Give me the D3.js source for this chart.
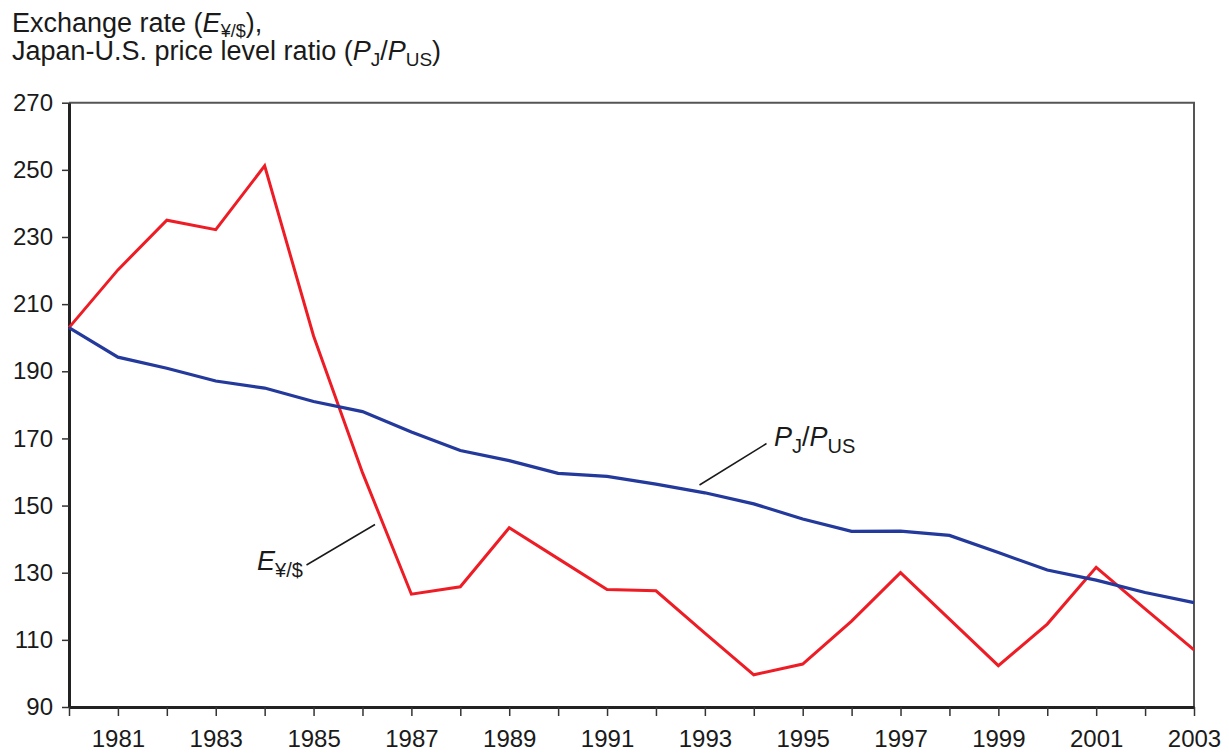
<!DOCTYPE html>
<html>
<head>
<meta charset="utf-8">
<script src="https://cdn.jsdelivr.net/npm/d3@7"></script>
<style>
  body { margin: 0; background: #fff; }
  svg text { font-family: "Liberation Sans", Arial, Helvetica, sans-serif; fill: #1a1a1a; }
</style>
</head>
<body>
<script>
'use strict';

// data
const years = d3.range(1980, 2004);
const exchangeRate = [203, 220.2, 235, 232.2, 251.2, 200.5, 159.8, 123.6, 125.8, 143.4, 134.2, 125, 124.6,
  112, 99.6, 102.8, 115.6, 130, 116.2, 102.3, 114.7, 131.6, 119.2, 107];
const priceRatio = [203, 194.2, 190.9, 187.1, 185, 181, 178, 171.9, 166.4, 163.4, 159.6, 158.7, 156.4,
  153.8, 150.5, 146, 142.3, 142.4, 141.1, 136, 130.8, 127.8, 124.1, 121.1];
const yTicks = [90, 110, 130, 150, 170, 190, 210, 230, 250, 270];

let svg = "";

window.onload = function() {
  svg = d3.select('body')
    .append('svg')
    .attr('width', 1229)
    .attr('height', 753);

  drawChart();
};

function drawChart() {
  let left = 69, right = 1194, top = 102.7, bottom = 707;

  let xScale = d3.scaleLinear()
    .domain([1980, 2003])
    .range([left, right]);

  let yScale = d3.scaleLinear()
    .domain([90, 270])
    .range([bottom, top]);

  // top and right frame
  svg.append('path')
    .attr('d', 'M' + left + ',' + top + 'H' + right + 'V' + bottom)
    .attr('fill', 'none')
    .attr('stroke', '#555')
    .attr('stroke-width', 2);

  // y axis
  let yAxis = d3.axisLeft(yScale)
    .tickValues(yTicks)
    .tickSize(7)
    .tickSizeOuter(0)
    .tickPadding(9);

  let gy = svg.append('g')
    .attr('transform', 'translate(' + left + ',0)')
    .call(yAxis);
  gy.select('.domain').attr('stroke', '#222').attr('stroke-width', 3);
  gy.selectAll('.tick line').attr('stroke', '#333').attr('stroke-width', 1.5);
  gy.selectAll('.tick text')
    .style('font-size', '24px')
    .attr('fill', '#1a1a1a');

  // x axis, tick every year, label odd years
  let xAxis = d3.axisBottom(xScale)
    .tickValues(years)
    .tickSize(9)
    .tickSizeOuter(0)
    .tickPadding(13.5)
    .tickFormat(d => d % 2 === 1 ? String(d) : '');

  let gx = svg.append('g')
    .attr('transform', 'translate(0,' + bottom + ')')
    .call(xAxis);
  gx.select('.domain').attr('stroke', '#222').attr('stroke-width', 3);
  gx.selectAll('.tick line').attr('stroke', '#333').attr('stroke-width', 1.5);
  gx.selectAll('.tick text')
    .style('font-size', '24px')
    .attr('fill', '#1a1a1a');

  // series lines
  let line = d3.line()
    .x((d, i) => xScale(years[i]))
    .y(d => yScale(d));

  svg.append('path')
    .datum(exchangeRate)
    .attr('d', line)
    .attr('fill', 'none')
    .attr('stroke', '#ee1c25')
    .attr('stroke-width', 3)
    .attr('stroke-linejoin', 'miter');

  svg.append('path')
    .datum(priceRatio)
    .attr('d', line)
    .attr('fill', 'none')
    .attr('stroke', '#23399b')
    .attr('stroke-width', 3.2)
    .attr('stroke-linejoin', 'miter');

  makeLabels();
}

function makeLabels() {
  // axis title, two lines
  let t1 = svg.append('text')
    .attr('x', 12)
    .attr('y', 31.5)
    .style('font-size', '27px');
  t1.append('tspan').text('Exchange rate (');
  t1.append('tspan').style('font-style', 'italic').text('E');
  t1.append('tspan').attr('dy', 5).style('font-size', '18px').text('¥/$');
  t1.append('tspan').attr('dy', -5).text('),');

  let t2 = svg.append('text')
    .attr('x', 12)
    .attr('y', 60)
    .style('font-size', '27px');
  t2.append('tspan').text('Japan-U.S. price level ratio (');
  t2.append('tspan').style('font-style', 'italic').text('P');
  t2.append('tspan').attr('dy', 6).style('font-size', '19px').text('J');
  t2.append('tspan').attr('dy', -6).text('/');
  t2.append('tspan').style('font-style', 'italic').text('P');
  t2.append('tspan').attr('dy', 6).style('font-size', '19px').text('US');
  t2.append('tspan').attr('dy', -6).text(')');

  // E label with leader line
  svg.append('line')
    .attr('x1', 306.5).attr('y1', 565)
    .attr('x2', 375).attr('y2', 524.5)
    .attr('stroke', '#1a1a1a')
    .attr('stroke-width', 1.5);

  let e = svg.append('text')
    .attr('x', 257)
    .attr('y', 570)
    .style('font-size', '27px');
  e.append('tspan').style('font-style', 'italic').text('E');
  e.append('tspan').attr('dy', 7).style('font-size', '20px').text('¥/$');

  // P label with leader line
  svg.append('line')
    .attr('x1', 766.5).attr('y1', 443.5)
    .attr('x2', 699.5).attr('y2', 485)
    .attr('stroke', '#1a1a1a')
    .attr('stroke-width', 1.5);

  let p = svg.append('text')
    .attr('x', 774)
    .attr('y', 446)
    .style('font-size', '27px');
  p.append('tspan').style('font-style', 'italic').text('P');
  p.append('tspan').attr('dy', 7).style('font-size', '20px').text('J');
  p.append('tspan').attr('dy', -7).text('/');
  p.append('tspan').style('font-style', 'italic').text('P');
  p.append('tspan').attr('dy', 7).style('font-size', '20px').text('US');
}
</script>
</body>
</html>
